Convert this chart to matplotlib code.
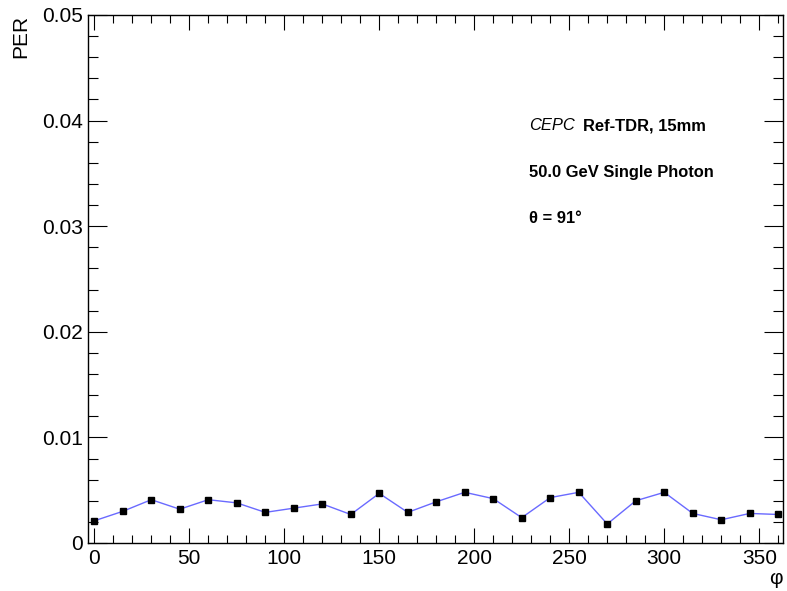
import matplotlib.pyplot as plt
from matplotlib.ticker import MultipleLocator

plt.rcParams['font.family'] = ['Liberation Sans', 'DejaVu Sans']

# phi angle (deg) and photon efficiency rate
phi = [0, 15, 30, 45, 60, 75, 90, 105, 120, 135, 150, 165, 180,
       195, 210, 225, 240, 255, 270, 285, 300, 315, 330, 345, 360]
per = [0.0021, 0.0030, 0.0041, 0.0032, 0.0041, 0.0038, 0.0029, 0.0033, 0.0037,
       0.0027, 0.0047, 0.0029, 0.0039, 0.0048, 0.0042, 0.0024, 0.0043, 0.0048,
       0.0018, 0.0040, 0.0048, 0.0028, 0.0022, 0.0028, 0.0027]
yticks = [0, 0.01, 0.02, 0.03, 0.04, 0.05]
yticklabels = ['0', '0.01', '0.02', '0.03', '0.04', '0.05']

fig = plt.figure(figsize=(7.87, 5.91), dpi=100)
ax = fig.add_axes([88 / 787, 1 - 543 / 591, (783 - 88) / 787, (543 - 15) / 591])

ax.plot(phi, per, color='#6a6aff', lw=1, marker='s', ms=5,
        mfc='black', mec='black', zorder=3)

ax.set_xlim(-3.3, 362.5)
ax.set_ylim(0, 0.05)
ax.xaxis.set_major_locator(MultipleLocator(50))
ax.xaxis.set_minor_locator(MultipleLocator(10))
ax.set_yticks(yticks)
ax.set_yticklabels(yticklabels)
ax.yaxis.set_minor_locator(MultipleLocator(0.002))
ax.tick_params(which='both', direction='in', top=True, right=True,
               labelsize=15, width=0.8)
ax.tick_params(axis='x', which='major', length=11, pad=4)
ax.tick_params(axis='x', which='minor', length=5.5)
ax.tick_params(axis='y', which='major', length=14)
ax.tick_params(axis='y', which='minor', length=7.5)
for s in ax.spines.values():
    s.set_linewidth(1)

ax.set_ylabel('PER', fontsize=15, loc='top', labelpad=9)
ax.set_xlabel('φ', fontsize=15, loc='right', labelpad=1)

fs = 11.9
ax.text(0.634, 0.790, 'CEPC', transform=ax.transAxes, style='italic', fontsize=fs, va='center')
ax.text(0.712, 0.790, 'Ref-TDR, 15mm', transform=ax.transAxes, weight='bold', fontsize=fs, va='center')
ax.text(0.634, 0.701, '50.0 GeV Single Photon', transform=ax.transAxes, weight='bold', fontsize=fs, va='center')
ax.text(0.634, 0.6155, 'θ = 91°', transform=ax.transAxes, weight='bold', fontsize=fs, va='center')

fig.savefig('out.png', dpi=100)
